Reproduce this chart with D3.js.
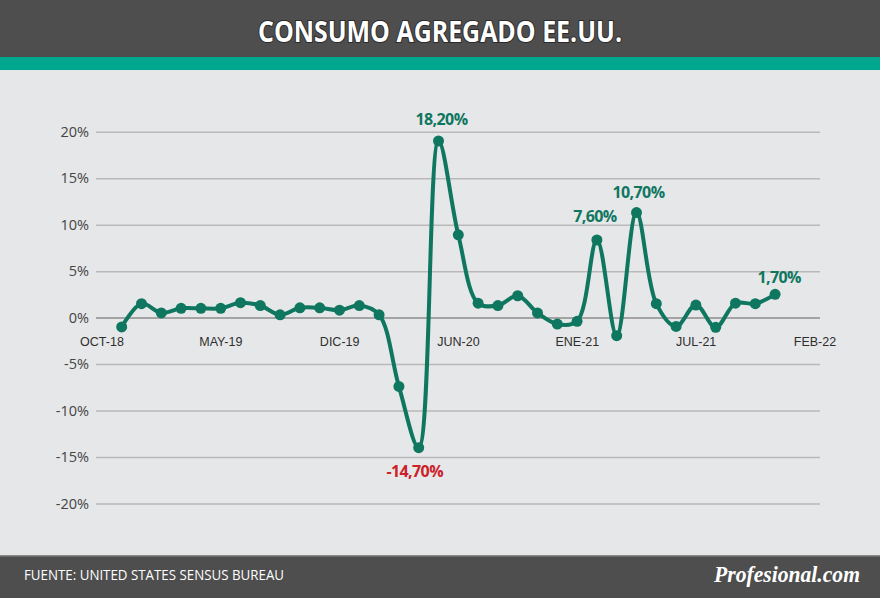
<!DOCTYPE html>
<html>
<head>
<meta charset="utf-8">
<script src="https://cdn.jsdelivr.net/npm/d3@7"></script>
<style>
  html, body { margin: 0; padding: 0; background: #e6e7e8; }
  svg { display: block; }
</style>
</head>
<body>
<script>
(function(){
  var width = 880;
  var height = 598;

  // monthly variation
  var months = ["ene-19","feb-19","mar-19","abr-19","may-19","jun-19","jul-19","ago-19","sep-19","oct-19","nov-19","dic-19",
                "ene-20","feb-20","mar-20","abr-20","may-20","jun-20","jul-20","ago-20","sep-20","oct-20","nov-20","dic-20",
                "ene-21","feb-21","mar-21","abr-21","may-21","jun-21","jul-21","ago-21","sep-21","oct-21"];
  var values = [-1.0, 1.5, 0.5, 1.0, 1.0, 1.0, 1.6, 1.3, 0.3, 1.05, 1.05, 0.8,
                1.3, 0.3, -7.4, -14.0, 19.0, 8.9, 1.55, 1.3, 2.35, 0.5, -0.7, -0.4,
                8.35, -1.95, 11.3, 1.5, -0.95, 1.35, -1.05, 1.55, 1.5, 2.5];

  var tickLabels = ["OCT-18","MAY-19","DIC-19","JUN-20","ENE-21","JUL-21","FEB-22"];
  var yTicks = [-20, -15, -10, -5, 0, 5, 10, 15, 20];

  var notes = ["18,20%", "-14,70%", "7,60%", "10,70%", "1,70%"];
  var noteMonths = ["may-20", "abr-20", "ene-21", "mar-21", "oct-21"];

  var title = "CONSUMO AGREGADO EE.UU.";
  var source = "FUENTE: UNITED STATES SENSUS BUREAU";
  var brand = "Profesional.com";

  var green = "#0f7660";
  var red = "#cc2229";

  var svg = d3.select("body").append("svg")
    .attr("width", width)
    .attr("height", height);

  svg.append("rect").attr("width", width).attr("height", height).attr("fill", "#e6e7e8");

  // header
  svg.append("rect").attr("x", 0).attr("y", 0).attr("width", width).attr("height", 57).attr("fill", "#4e4e4e");
  svg.append("rect").attr("x", 0).attr("y", 57).attr("width", width).attr("height", 13).attr("fill", "#00a78f");
  svg.append("text")
    .attr("x", 440).attr("y", 42)
    .attr("text-anchor", "middle")
    .attr("textLength", 364).attr("lengthAdjust", "spacingAndGlyphs")
    .style("font-family", "'Open Sans', sans-serif")
    .style("font-weight", "bold")
    .style("font-size", "28px")
    .style("fill", "#fff")
    .style("stroke", "#2a2a2a").style("stroke-width", 2).style("paint-order", "stroke")
    .text(title);

  // footer
  svg.append("rect").attr("x", 0).attr("y", 555).attr("width", width).attr("height", 43).attr("fill", "#4e4e4e");
  svg.append("rect").attr("x", 0).attr("y", 555).attr("width", width).attr("height", 1.5).attr("fill", "#8a8a8a");
  svg.append("text")
    .attr("x", 24).attr("y", 580)
    .attr("textLength", 260).attr("lengthAdjust", "spacingAndGlyphs")
    .style("font-family", "'Open Sans', sans-serif")
    .style("font-size", "14.5px")
    .style("fill", "#fff")
    .text(source);
  svg.append("text")
    .attr("x", 714).attr("y", 582)
    .attr("textLength", 146).attr("lengthAdjust", "spacingAndGlyphs")
    .style("font-family", "'Liberation Serif', 'DejaVu Serif', serif")
    .style("font-style", "italic")
    .style("font-weight", "bold")
    .style("font-size", "23px")
    .style("fill", "#fff")
    .text(brand);

  // scales
  var x = d3.scalePoint().domain(months).range([121.7, 775.1]);
  var xLab = d3.scalePoint().domain(tickLabels).range([102, 815]);
  var y = d3.scaleLinear().domain([-20, 20]).range([503.5, 131.7]);

  // y axis + grid
  var yAxis = d3.axisLeft(y)
    .tickValues(yTicks)
    .tickSize(-(820 - 96))
    .tickPadding(7)
    .tickFormat(function(d){ return d + "%"; });

  var gy = svg.append("g").attr("transform", "translate(96,0)").call(yAxis);
  gy.select(".domain").remove();
  gy.selectAll(".tick line")
    .attr("stroke", function(d){ return d === 0 ? "#8c8c8c" : "#b9b9b9"; })
    .attr("stroke-width", 1.5);
  gy.selectAll(".tick text")
    .style("font-family", "'Open Sans', sans-serif")
    .style("font-size", "14.5px")
    .style("fill", "#444");

  // x labels
  svg.append("g").selectAll("text")
    .data(tickLabels)
    .join("text")
    .attr("x", function(d){ return xLab(d); })
    .attr("y", 346)
    .attr("text-anchor", "middle")
    .style("font-family", "'Liberation Sans', Arial, sans-serif")
    .style("font-size", "12.5px")
    .style("fill", "#2e2e2e")
    .text(function(d){ return d; });

  // line
  var line = d3.line()
    .x(function(d, i){ return x(months[i]); })
    .y(function(d){ return y(d); })
    .curve(d3.curveCatmullRom.alpha(0.5));

  svg.append("path")
    .datum(values)
    .attr("d", line)
    .attr("fill", "none")
    .attr("stroke", green)
    .attr("stroke-width", 4)
    .attr("stroke-linejoin", "round");

  svg.append("g").selectAll("circle")
    .data(values)
    .join("circle")
    .attr("cx", function(d, i){ return x(months[i]); })
    .attr("cy", function(d){ return y(d); })
    .attr("r", 5.5)
    .attr("fill", green);

  // annotations
  var noteOffsets = [
    { dx: 3, dy: -16 },
    { dx: -4, dy: 29 },
    { dx: -2, dy: -18 },
    { dx: 2, dy: -15 },
    { dx: 4, dy: -11 }
  ];

  svg.append("g").selectAll("text")
    .data(notes)
    .join("text")
    .attr("x", function(d, i){ return x(noteMonths[i]) + noteOffsets[i].dx; })
    .attr("y", function(d, i){ return y(values[months.indexOf(noteMonths[i])]) + noteOffsets[i].dy; })
    .attr("text-anchor", "middle")
    .style("font-family", "'Open Sans', sans-serif")
    .style("font-weight", "bold")
    .style("font-size", "16px")
    .style("letter-spacing", "-0.6px")
    .style("fill", function(d){ return d.charAt(0) === "-" ? red : green; })
    .text(function(d){ return d; });
})();
</script>
</body>
</html>
